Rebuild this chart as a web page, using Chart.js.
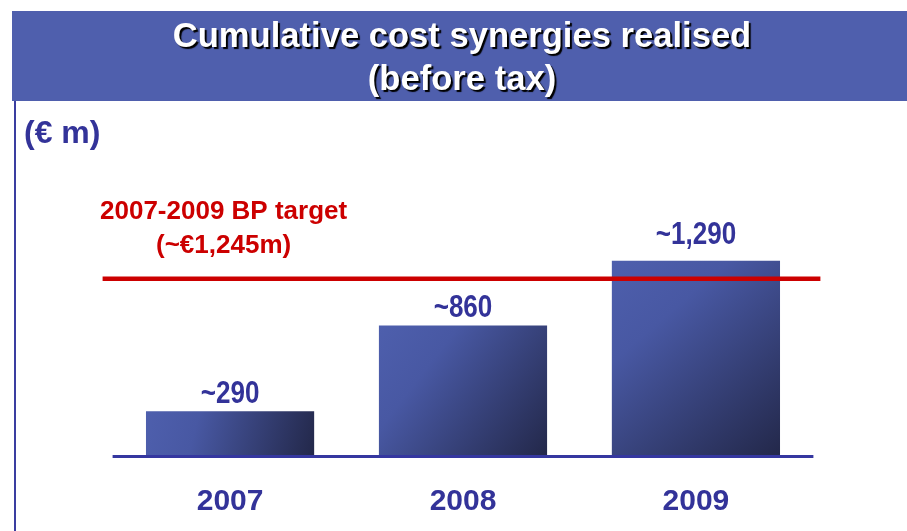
<!DOCTYPE html>
<html>
<head>
<meta charset="utf-8">
<script src="https://cdn.jsdelivr.net/npm/chart.js@4/dist/chart.umd.min.js"></script>
<style>
  html, body { margin: 0; padding: 0; background: #ffffff; }
  #wrap { width: 907px; height: 531px; position: relative; }
</style>
</head>
<body>
<div id="wrap"><canvas id="c" width="907" height="531"></canvas></div>
<script>
// ---- data ----
const years = ['2007', '2008', '2009'];
const synergies = [290, 860, 1290];           // cumulative cost synergies, € m
const targetLevel = [1170];                   // level at which the BP target line is drawn
const titleLines = ['Cumulative cost synergies realised', '(before tax)'];
const unitLabel = '(€ m)';
const targetLines = ['2007-2009 BP target', '(~€1,245m)'];
const yTicks = [0, 1500];                     // hidden value axis range

const NAVY = '#333399';
const RED = '#CC0000';
const SANS = '"Liberation Sans", Arial, sans-serif';

function barGradient(ctx) {
  const chart = ctx.chart;
  const xs = chart.scales.x, ys = chart.scales.y;
  if (!xs || !ys || !chart.chartArea || ctx.dataIndex === undefined) return '#4A5AA6';
  const cx = xs.getPixelForValue(ctx.dataIndex);
  const half = (xs.width / years.length) * 0.722 / 2;
  const top = ys.getPixelForValue(ctx.raw);
  const base = ys.getPixelForValue(0);
  const g = chart.ctx.createLinearGradient(cx - half, top, cx + half, base);
  g.addColorStop(0, '#4E5FAD');
  g.addColorStop(0.3, '#4858A3');
  g.addColorStop(1, '#23284A');
  return g;
}

const decor = {
  id: 'decor',
  beforeDraw(chart) {
    const c = chart.ctx;
    c.save();
    // banner
    c.fillStyle = '#4F5FAD';
    c.fillRect(12, 11, 895, 90);
    // left rule
    c.fillStyle = '#3A3DA0';
    c.fillRect(14, 101, 2, 430);
    // title
    c.font = 'bold 34.6px ' + SANS;
    c.textAlign = 'center';
    c.textBaseline = 'alphabetic';
    c.shadowColor = 'rgba(0,0,0,1)';
    c.shadowOffsetX = 2;
    c.shadowOffsetY = 2;
    c.shadowBlur = 1;
    c.fillStyle = '#FFFFFF';
    titleLines.forEach((t, i) => c.fillText(t, 462, 47 + i * 43));
    c.restore();
    // unit label
    c.save();
    c.font = 'bold 32px ' + SANS;
    c.fillStyle = NAVY;
    c.textAlign = 'left';
    c.textBaseline = 'alphabetic';
    c.fillText(unitLabel, 24, 143);
    c.restore();
  },
  afterDatasetsDraw(chart) {
    const c = chart.ctx;
    const ys = chart.scales.y;
    const area = chart.chartArea;
    const lineY = ys.getPixelForValue(targetLevel[0]);
    c.save();
    // axis baseline
    c.strokeStyle = '#3537A0';
    c.lineWidth = 3;
    c.beginPath();
    c.moveTo(area.left - 1, area.bottom + 1.5);
    c.lineTo(area.right + 1, area.bottom + 1.5);
    c.stroke();
    // target line
    c.strokeStyle = RED;
    c.lineWidth = 4.5;
    c.beginPath();
    c.moveTo(area.left - 11, lineY);
    c.lineTo(area.right + 8, lineY);
    c.stroke();
    // target label
    c.font = 'bold 26px ' + SANS;
    c.fillStyle = RED;
    c.textAlign = 'center';
    c.textBaseline = 'alphabetic';
    const lx = area.left + 110;
    targetLines.forEach((t, i) => c.fillText(t, lx, lineY - 60 + i * 34));
    // value labels (condensed)
    c.font = 'bold 31px ' + SANS;
    c.fillStyle = NAVY;
    const meta = chart.getDatasetMeta(0);
    meta.data.forEach((bar, i) => {
      const gap = bar.y < lineY ? 17 : 8;
      c.save();
      c.translate(bar.x, bar.y - gap);
      c.scale(0.84, 1);
      c.fillText('~' + synergies[i].toLocaleString('en-US'), 0, 0);
      c.restore();
    });
    c.restore();
  }
};

new Chart(document.getElementById('c'), {
  type: 'bar',
  data: {
    labels: years,
    datasets: [{
      data: synergies,
      backgroundColor: barGradient,
      borderWidth: 0,
      categoryPercentage: 1.0,
      barPercentage: 0.722
    }]
  },
  options: {
    responsive: false,
    animation: false,
    devicePixelRatio: 1,
    layout: { padding: { left: 113.6, right: 94.6, top: 229, bottom: 0 } },
    plugins: { legend: { display: false }, tooltip: { enabled: false }, title: { display: false } },
    scales: {
      x: {
        grid: { display: false, drawTicks: false },
        border: { display: false },
        ticks: { color: NAVY, font: { family: SANS, size: 30, weight: 'bold' }, padding: 29 },
        afterFit(scale) { scale.height = 76; }
      },
      y: {
        display: false,
        min: yTicks[0],
        max: yTicks[1]
      }
    }
  },
  plugins: [decor]
});
</script>
</body>
</html>
